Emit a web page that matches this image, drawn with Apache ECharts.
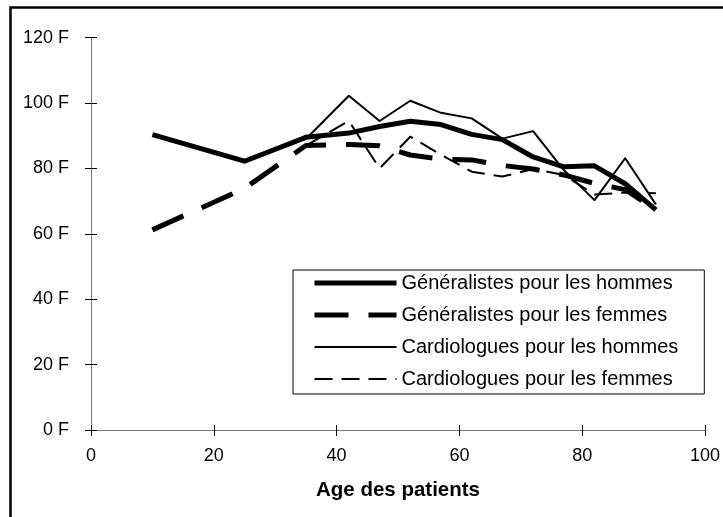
<!DOCTYPE html>
<html>
<head>
<meta charset="utf-8">
<script src="https://cdn.jsdelivr.net/npm/echarts@6/dist/echarts.min.js"></script>
<style>
  html, body { margin: 0; padding: 0; background: #fff; }
  #chart { width: 723px; height: 517px; }
</style>
</head>
<body>
<div id="chart"></div>
<script>
"use strict";

// tranches d'age (milieu de classe)
var agesGen = [10, 25, 35, 42, 47, 52, 57, 62, 67, 72, 77, 82, 87, 92];
var agesCardio = [35, 42, 47, 52, 57, 62, 67, 72, 77, 82, 87, 92];

// honoraires moyens (F)
var genHommes = [90.3, 82.2, 89.5, 90.8, 92.8, 94.4, 93.4, 90.4, 88.8, 83.5, 80.5, 80.8, 75.3, 67.3];
var genFemmes = [61.2, 73.9, 87.0, 87.3, 86.9, 84.1, 82.8, 82.6, 80.9, 79.8, 78.0, 75.4, 73.5, 67.3];
var cardioHommes = [89.0, 102.2, 94.5, 100.7, 97.0, 95.3, 89.1, 91.4, 79.5, 70.3, 83.1, 69.0];
var cardioFemmes = [87.0, 94.5, 80.0, 89.7, 84.2, 79.0, 77.5, 79.8, 78.0, 72.0, 72.6, 72.4];

var seriesNames = [
    "Généralistes pour les hommes",
    "Généralistes pour les femmes",
    "Cardiologues pour les hommes",
    "Cardiologues pour les femmes"
];
var yTicks = { min: 0, max: 120, interval: 20 };
var xTicks = { min: 0, max: 100, interval: 20 };

function pairs(xs, ys) {
    var a = [];
    for (var i = 0; i < xs.length; i++) { a.push([xs[i], ys[i]]); }
    return a;
}

function mkLine(name, xs, ys, width, dash) {
    return {
        name: name,
        type: "line",
        symbol: "none",
        xAxisIndex: 0,
        yAxisIndex: 0,
        data: pairs(xs, ys),
        lineStyle: { color: "#000", width: width, type: dash, join: "round" },
        itemStyle: { color: "#000" },
        emphasis: { disabled: true }
    };
}

var font = "'Liberation Sans', Arial, sans-serif";
var chart = echarts.init(document.getElementById("chart"), null, { renderer: "canvas" });

var option = {
    animation: false,
    backgroundColor: "#fff",
    textStyle: { fontFamily: font, color: "#000" },
    grid: { left: 91, right: 18, top: 37.6, bottom: 87, containLabel: false, outerBoundsMode: "none" },
    xAxis: [{
        type: "value",
        min: xTicks.min, max: xTicks.max, interval: xTicks.interval,
        position: "bottom",
        name: "Age des patients",
        nameLocation: "middle",
        nameGap: 50,
        nameTextStyle: { fontFamily: font, fontSize: 20.5, fontWeight: "bold", color: "#000" },
        axisLine: { show: true, lineStyle: { color: "#777", width: 1 } },
        axisTick: { show: true, inside: false, length: 6, lineStyle: { color: "#000" } },
        axisLabel: { fontFamily: font, fontSize: 18, color: "#000", margin: 17 },
        splitLine: { show: false }
    }, {
        type: "value",
        min: xTicks.min, max: xTicks.max, interval: xTicks.interval,
        position: "bottom",
        offset: 0,
        axisLine: { show: false },
        axisTick: { show: true, inside: true, length: 5, lineStyle: { color: "#000" } },
        axisLabel: { show: false },
        splitLine: { show: false }
    }],
    yAxis: [{
        type: "value",
        min: yTicks.min, max: yTicks.max, interval: yTicks.interval,
        position: "left",
        axisLine: { show: true, lineStyle: { color: "#777", width: 1 } },
        axisTick: { show: true, inside: false, length: 6, lineStyle: { color: "#000" } },
        axisLabel: { fontFamily: font, fontSize: 18, color: "#000", margin: 22, formatter: "{value} F" },
        splitLine: { show: false }
    }, {
        type: "value",
        min: yTicks.min, max: yTicks.max, interval: yTicks.interval,
        position: "left",
        offset: 0,
        axisLine: { show: false },
        axisTick: { show: true, inside: true, length: 6, lineStyle: { color: "#000" } },
        axisLabel: { show: false },
        splitLine: { show: false }
    }],
    legend: {
        orient: "vertical",
        left: 293,
        top: 270,
        padding: [3, 26, 5, 19],
        itemWidth: 82,
        itemHeight: 14,
        itemGap: 12,
        borderColor: "#000",
        borderWidth: 1,
        backgroundColor: "#fff",
        selectedMode: false,
        itemStyle: { opacity: 0 },
        lineStyle: { width: "inherit", type: "inherit", color: "#000" },
        textStyle: { fontFamily: font, fontSize: 20, color: "#000", lineHeight: 20 },
        data: seriesNames
    },
    graphic: [{
        type: "rect",
        silent: true,
        shape: { x: 10.5, y: 7.5, width: 800, height: 600 },
        style: { fill: "none", stroke: "#000", lineWidth: 2.5 }
    }],
    series: [
        mkLine(seriesNames[2], agesCardio, cardioHommes, 2, "solid"),
        mkLine(seriesNames[3], agesCardio, cardioFemmes, 2, [18, 9]),
        mkLine(seriesNames[1], agesGen, genFemmes, 5, [34, 20]),
        mkLine(seriesNames[0], agesGen, genHommes, 5, "solid")
    ]
};

chart.setOption(option);
</script>
</body>
</html>
